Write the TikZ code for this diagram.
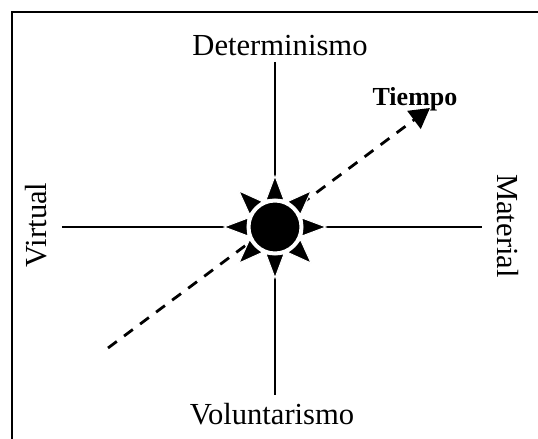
\documentclass[tikz,border=0pt]{standalone}
\usepackage{fontspec}
\setmainfont{Liberation Serif}
\usetikzlibrary{arrows.meta}

\begin{document}
\begin{tikzpicture}[x=0.5pt, y=-0.5pt,
  every node/.style={font=\fontsize{15.3}{18}\selectfont, inner sep=0pt},
  lbl/.style={anchor=base},
  axis/.style={line width=0.9pt},
  tarr/.style={line width=1.4pt, dash pattern=on 5.5pt off 4.5pt,
               -{Triangle[length=10pt, width=11pt]}},
  sun/.style={circle, fill=black, draw=white, line width=2pt, minimum size=26.5pt},
  ray/.style={fill=black, draw=white, line width=0.5pt},
]
\clip (0,0) rectangle (538,439);
\fill[white] (0,0) rectangle (538,439);
\draw[axis] (12,12) rectangle (600,500);

% axis ends
\coordinate (c) at (275,227);
\coordinate (n) at (275,62);
\coordinate (s) at (275,395);
\coordinate (w) at (62,227);
\coordinate (e) at (482,227);
\coordinate (t0) at (108,348);
\coordinate (t1) at (430,108);

\node[lbl] (det) at (280,55) {Determinismo};
\node[lbl] (vol) at (272,425) {Voluntarismo};
\node[rotate=90]  (vir) at (36,225) {Virtual};
\node[rotate=-90] (mat) at (508,226) {Material};
\node[lbl, font=\fontsize{13}{15}\selectfont\bfseries] (tie) at (415,105) {Tiempo};

\draw[axis] (n) -- (s);
\draw[axis] (w) -- (e);
\draw[tarr] (t0) -- (t1);

\foreach \a in {0,45,...,315}
  \filldraw[ray, shift={(c)}, rotate=\a] (51,0) -- (27,9) -- (27,-9) -- cycle;
\node[sun] (sol) at (c) {};
\end{tikzpicture}
\end{document}
